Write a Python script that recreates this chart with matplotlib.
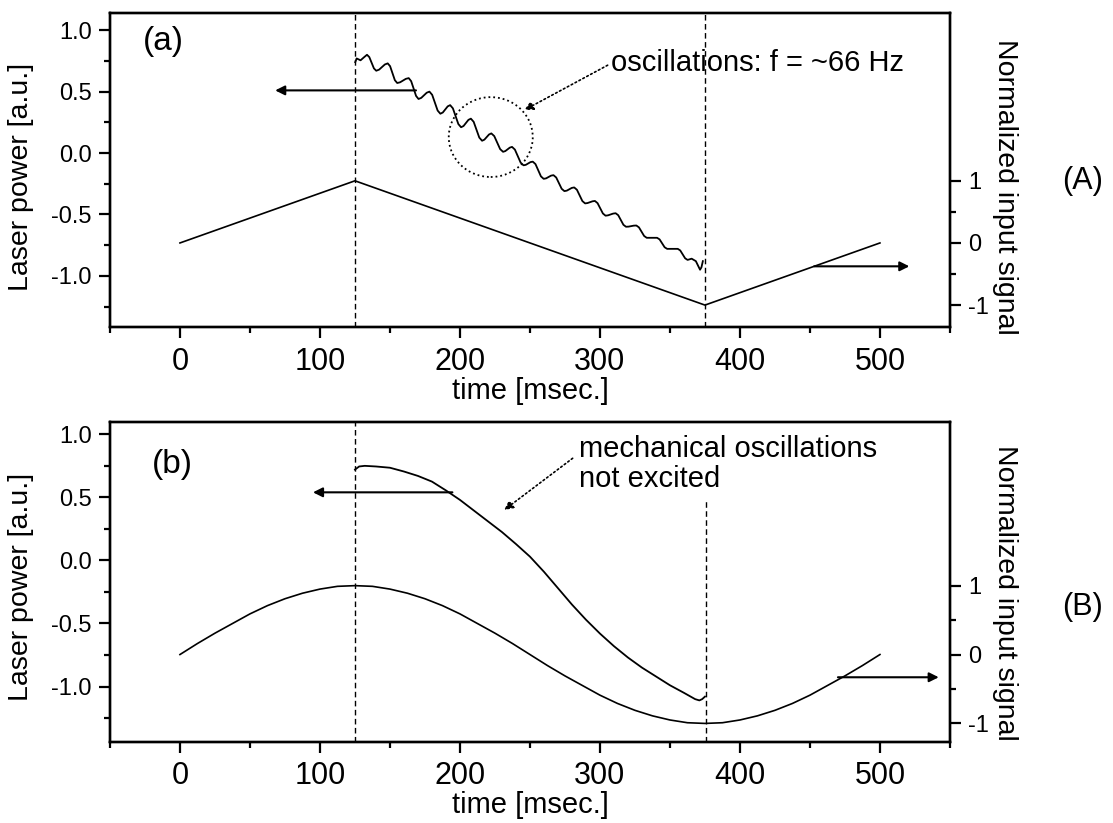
import matplotlib.pyplot as plt
from matplotlib.patches import Ellipse
from matplotlib.ticker import MultipleLocator, FormatStrFormatter

plt.rcParams['font.family'] = ['Liberation Sans', 'DejaVu Sans']
plt.rcParams['axes.unicode_minus'] = False

# ---- data ----
# (a) triangular input signal (right axis)
tri_t = [0, 125, 375, 500]
tri_v = [0, 1, -1, 0]

# (a) laser power with ~66 Hz ripple (left axis)
las_a_t = [125.2, 126.2, 129.0, 131.5, 133.6, 135.25, 138.55, 140.2, 142.25, 146.35,
           148.4, 150.1, 153.5, 155.2, 157.25, 161.35, 163.4, 165.15, 168.65, 170.4,
           172.35, 176.25, 178.2, 180.15, 184.05, 186.0, 187.75, 191.25, 193.0,
           194.95, 198.85, 200.8, 202.55, 206.05, 207.8, 209.8, 213.8, 215.8,
           217.45, 220.75, 222.4, 224.5, 228.7, 230.8, 232.4, 235.6, 237.2, 239.25,
           243.35, 245.4, 247.05, 250.35, 252.0, 253.95, 257.85, 259.8, 261.55,
           265.05, 266.8, 268.75, 272.65, 274.6, 276.35, 279.85, 281.6, 283.55,
           287.45, 289.4, 291.15, 294.65, 296.4, 298.3, 302.1, 304.0, 305.8, 309.4,
           311.2, 313.05, 316.75, 318.6, 320.45, 324.15, 326.0, 327.85, 331.55,
           333.4, 335.25, 338.95, 340.8, 342.6, 346.2, 348.0, 349.9, 353.7, 355.6,
           357.35, 360.85, 362.6, 365.5, 368.5, 371.5, 372.5, 373.5]
las_a_v = [0.74, 0.77, 0.755, 0.78, 0.80, 0.781, 0.689, 0.67, 0.679, 0.721,
           0.73, 0.707, 0.593, 0.57, 0.576, 0.604, 0.61, 0.585, 0.465, 0.44,
           0.449, 0.491, 0.50, 0.474, 0.346, 0.32, 0.330, 0.380, 0.39,
           0.364, 0.236, 0.21, 0.220, 0.270, 0.28, 0.254, 0.126, 0.10,
           0.109, 0.151, 0.16, 0.138, 0.032, 0.01, 0.016, 0.044, 0.05, 0.028,
           -0.078, -0.10, -0.096, -0.074, -0.07, -0.090, -0.190, -0.21, -0.206,
           -0.184, -0.18, -0.199, -0.291, -0.31, -0.306, -0.284, -0.28, -0.299,
           -0.391, -0.41, -0.407, -0.393, -0.39, -0.408, -0.492, -0.51, -0.507, -0.493,
           -0.49, -0.506, -0.584, -0.60, -0.599, -0.591, -0.59, -0.605, -0.675,
           -0.69, -0.69, -0.69, -0.69, -0.703, -0.767, -0.78, -0.78, -0.78, -0.78,
           -0.793, -0.857, -0.87, -0.86, -0.88, -0.95, -0.93, -0.88]

# (b) sinusoidal input signal (right axis)
sin_t = [0, 12.5, 25, 37.5, 50, 62.5, 75, 87.5, 100, 112.5, 125, 137.5, 150, 162.5,
         175, 187.5, 200, 212.5, 225, 237.5, 250, 262.5, 275, 287.5, 300, 312.5,
         325, 337.5, 350, 362.5, 375, 387.5, 400, 412.5, 425, 437.5, 450, 462.5,
         475, 487.5, 500]
sin_v = [0.0, 0.16, 0.31, 0.45, 0.59, 0.71, 0.81, 0.89, 0.95, 0.99, 1.0, 0.99, 0.95,
         0.89, 0.81, 0.71, 0.59, 0.45, 0.31, 0.16, 0.0, -0.16, -0.31, -0.45, -0.59,
         -0.71, -0.81, -0.89, -0.95, -0.99, -1.0, -0.99, -0.95, -0.89, -0.81, -0.71,
         -0.59, -0.45, -0.31, -0.16, 0.0]

# (b) laser power, no ripple (left axis)
las_b_t = [125, 128, 132, 140, 150, 160, 170, 180, 190, 200, 210, 220, 230, 240,
           250, 260, 270, 280, 290, 300, 310, 320, 330, 340, 350, 360, 368, 371,
           373, 375]
las_b_v = [0.72, 0.745, 0.75, 0.745, 0.735, 0.705, 0.67, 0.625, 0.555, 0.48, 0.395,
           0.31, 0.225, 0.13, 0.03, -0.09, -0.22, -0.35, -0.47, -0.58, -0.68, -0.77,
           -0.85, -0.92, -0.99, -1.05, -1.10, -1.11, -1.10, -1.08]

x_ticks = [0, 100, 200, 300, 400, 500]
left_ticks = [-1.0, -0.5, 0.0, 0.5, 1.0]
right_ticks = [-1, 0, 1]

fig = plt.figure(figsize=(11.13, 8.23), dpi=100)
ax_a = fig.add_axes([0.0988, 0.6021, 0.7547, 0.3821])
ax_b = fig.add_axes([0.0988, 0.0984, 0.7547, 0.3892])
ax_a2 = ax_a.twinx()
ax_b2 = ax_b.twinx()


def style(ax, ax2, ylim, ylim2):
    ax.set_xlim(-50, 550)
    ax.set_ylim(*ylim)
    ax2.set_ylim(*ylim2)
    ax.set_xticks(x_ticks)
    ax.xaxis.set_minor_locator(MultipleLocator(50))
    ax.set_yticks(left_ticks)
    ax.yaxis.set_major_formatter(FormatStrFormatter('%.1f'))
    ax.yaxis.set_minor_locator(MultipleLocator(0.25))
    ax2.set_yticks(right_ticks)
    ax2.set_yticks([-0.5, 0.5], minor=True)
    ax.tick_params(which='both', direction='out', width=1.6, top=False, right=False)
    ax.tick_params(which='major', length=8)
    ax.tick_params(which='minor', length=4.5)
    ax.tick_params(axis='x', labelsize=22, pad=6)
    ax.tick_params(axis='y', labelsize=17, pad=5)
    ax2.tick_params(which='both', direction='out', width=1.6, labelsize=17, pad=5)
    ax2.tick_params(which='major', length=8)
    ax2.tick_params(which='minor', length=4.5)
    for a in (ax, ax2):
        for sp in a.spines.values():
            sp.set_linewidth(1.7)
    ax.set_xlabel('time [msec.]', fontsize=21, labelpad=0)
    ax.set_ylabel('Laser power [a.u.]', fontsize=20.5)
    ax2.set_ylabel('Normalized input signal', fontsize=20.5, rotation=-90, va='bottom')


style(ax_a, ax_a2, (-1.42, 1.14), (-1.36, 3.70))
style(ax_b, ax_b2, (-1.44, 1.10), (-1.27, 3.38))
ax_a.yaxis.set_label_coords(-0.09, 0.48)
ax_b.yaxis.set_label_coords(-0.09, 0.484)
ax_a2.yaxis.set_label_coords(1.05, 0.447)
ax_b2.yaxis.set_label_coords(1.05, 0.465)

dash = (0, (4, 2.5))
arrow = dict(arrowstyle='-|>', color='black', lw=1.5, mutation_scale=14,
             shrinkA=0, shrinkB=0)
dot_arrow = dict(arrowstyle='-|>', color='black', lw=1.2, linestyle=':',
                 mutation_scale=13, shrinkA=0, shrinkB=0)

# ---- panel (a) ----
ax_a2.plot(tri_t, tri_v, color='black', lw=1.2)
ax_a.plot(las_a_t, las_a_v, color='black', lw=1.3)
ax_a.plot([125, 125], [-1.42, 1.14], color='black', lw=1.0, linestyle=dash)
ax_a.plot([375, 375], [-1.42, 1.14], color='black', lw=1.0, linestyle=dash)
ax_a.annotate('', xy=(68, 0.51), xytext=(168.6, 0.51), arrowprops=arrow)
ax_a2.annotate('', xy=(521, -0.376), xytext=(453, -0.376), arrowprops=arrow)
ax_a.add_patch(Ellipse((222, 0.13), 60, 0.65, fill=False, lw=1.3, linestyle=':',
                       edgecolor='black'))
ax_a.annotate('', xy=(246, 0.35), xytext=(305.5, 0.715), arrowprops=dot_arrow)
ax_a.text(308, 0.73, 'oscillations: f = ~66 Hz', fontsize=21, va='center', ha='left')
ax_a.text(-12, 0.91, '(a)', fontsize=24, va='center', ha='center')
fig.text(1083 / 1113, 1 - 181 / 823, '(A)', fontsize=22, va='center', ha='center')

# ---- panel (b) ----
ax_b2.plot(sin_t, sin_v, color='black', lw=1.2)
ax_b.plot(las_b_t, las_b_v, color='black', lw=1.3)
ax_b.plot([125, 125], [-1.44, 1.10], color='black', lw=1.0, linestyle=dash)
ax_b.plot([376, 376], [-1.44, 0.47], color='black', lw=1.0, linestyle=dash)
ax_b.annotate('', xy=(95, 0.54), xytext=(194.6, 0.54), arrowprops=arrow)
ax_b2.annotate('', xy=(542, -0.33), xytext=(470, -0.33), arrowprops=arrow)
ax_b.annotate('', xy=(231.6, 0.40), xytext=(280.5, 0.81), arrowprops=dot_arrow)
ax_b.text(285, 0.765, 'mechanical oscillations\nnot excited', fontsize=21,
          va='center', ha='left', linespacing=1.05)
ax_b.text(-5.7, 0.76, '(b)', fontsize=24, va='center', ha='center')
fig.text(1083 / 1113, 1 - 607 / 823, '(B)', fontsize=22, va='center', ha='center')

fig.savefig('out.png', dpi=100)
